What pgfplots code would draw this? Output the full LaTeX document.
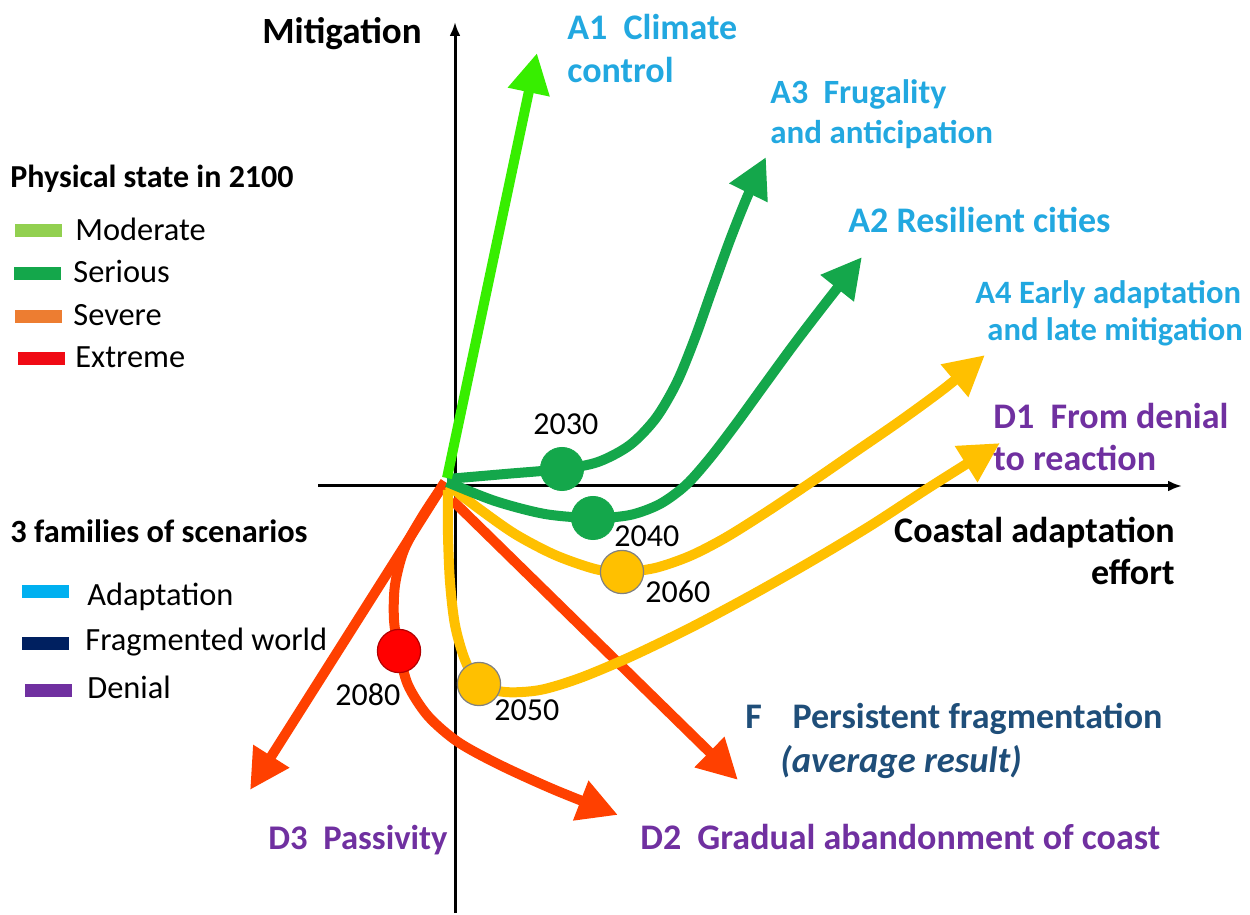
\documentclass[border=0pt]{standalone}
\usepackage{pgfplots}
\pgfplotsset{compat=1.18}
\usepackage{fontspec}
\setmainfont{Carlito}
\usetikzlibrary{arrows.meta}
\definecolor{limeg}{RGB}{55,238,0}
\definecolor{serg}{RGB}{20,167,75}
\definecolor{yel}{RGB}{255,192,0}
\definecolor{redor}{RGB}{255,64,0}
\definecolor{modg}{RGB}{146,208,80}
\definecolor{sevo}{RGB}{237,125,49}
\definecolor{extr}{RGB}{240,10,20}
\definecolor{adapt}{RGB}{34,168,224}
\definecolor{adsw}{RGB}{0,176,240}
\definecolor{frag}{RGB}{0,32,96}
\definecolor{fragtxt}{RGB}{31,78,121}
\definecolor{deni}{RGB}{112,48,160}
\begin{document}
\begin{tikzpicture}
\begin{axis}[scale only axis, width=625pt, height=456.5pt,
  xmin=0, xmax=1250, ymin=0, ymax=913, y dir=reverse,
  hide axis, clip=false]
\addplot[draw=none] coordinates {(0,0) (1250,913)};
% axes
\addplot[black, line width=1.5pt, -{Latex[length=7pt,width=5.5pt]}] coordinates {(455,913) (455,22)};
\addplot[black, line width=1.5pt, -{Latex[length=7pt,width=5.5pt]}] coordinates {(318,486) (1182,486)};
\tikzset{arr/.style={line width=5pt, -{Triangle[length=20pt,width=20pt]}}}
% F and D3
\addplot[redor, arr] coordinates {(452,500) (738,780)};
\addplot[redor, arr] coordinates {(445,482) (250,790)};
% D2
\addplot[redor, arr, smooth] coordinates {(445,482) (422,517) (404,550) (395,585) (394,620) (399,651) (408,685) (428,716) (458,742) (500,765) (555,790) (618,815)};
% D1
\addplot[yel, arr, smooth] coordinates {(448,490) (448,535) (450,582) (455,625) (465,660) (479,684) (505,692) (540,690) (580,678) (630,657) (690,628) (750,596) (810,562) (870,526) (930,487) (1000,443)};
% A4
\addplot[yel, arr, smooth] coordinates {(448,485) (478,508) (515,534) (555,555) (595,569) (622,572) (655,568) (690,556) (725,538) (765,513) (810,483) (855,452) (900,421) (945,388) (985,355)};
% A2
\addplot[serg, arr, smooth] coordinates {(447,482) (495,501) (545,514) (593,518) (630,515) (660,504) (686,485) (710,458) (736,424) (765,384) (795,343) (828,300) (862,257)};
% A3
\addplot[serg, arr, smooth] coordinates {(447,479) (505,474) (562,469) (598,462) (630,445) (656,418) (677,382) (695,338) (712,290) (730,240) (748,195) (766,157)};
% A1
\addplot[limeg, arr] coordinates {(447,478) (537,53)};
% circles
\addplot[only marks, mark=*, mark size=10.8pt, mark options={fill=serg, draw=serg}] coordinates {(562,469) (593,518)};
\addplot[only marks, mark=*, mark size=10.8pt, mark options={fill=yel, draw=gray, line width=0.6pt}] coordinates {(622,572) (479,684)};
\addplot[only marks, mark=*, mark size=10.8pt, mark options={fill=red, draw=red!70!black, line width=0.6pt}] coordinates {(399,651)};
% legend swatches
\addplot[fill=modg, draw=none] coordinates {(15,224) (62,224) (62,237) (15,237)} -- cycle;
\addplot[fill=serg, draw=none] coordinates {(14,267) (61,267) (61,280) (14,280)} -- cycle;
\addplot[fill=sevo, draw=none] coordinates {(15,310) (62,310) (62,323) (15,323)} -- cycle;
\addplot[fill=extr, draw=none] coordinates {(18,352) (65,352) (65,365) (18,365)} -- cycle;
\addplot[fill=adsw, draw=none] coordinates {(22,585) (69,585) (69,598) (22,598)} -- cycle;
\addplot[fill=frag, draw=none] coordinates {(22,637) (69,637) (69,650) (22,650)} -- cycle;
\addplot[fill=deni, draw=none] coordinates {(25,684) (72,684) (72,697) (25,697)} -- cycle;
% axis labels
\tikzset{every node/.append style={inner sep=0pt}}
\node[anchor=base west, font=\fontsize{18.5}{21}\selectfont\bfseries] at (axis cs:262,44) {Mitigation};
\node[anchor=base east, font=\fontsize{18}{21}\selectfont\bfseries] at (axis cs:1175,543) {Coastal adaptation};
\node[anchor=base east, font=\fontsize{18}{21}\selectfont\bfseries] at (axis cs:1175,585) {effort};
% scenario labels
\tikzset{scen/.style={anchor=base west, font=\fontsize{18}{21}\selectfont\bfseries}}
\node[scen, text=adapt] at (axis cs:567,40) {A1\hspace{0.45em}Climate};
\node[scen, text=adapt] at (axis cs:567,83) {control};
\node[scen, text=adapt, font=\fontsize{17}{20}\selectfont\bfseries] at (axis cs:770,104) {A3\hspace{0.45em}Frugality};
\node[scen, text=adapt, font=\fontsize{16.5}{20}\selectfont\bfseries] at (axis cs:770,144) {and anticipation};
\node[scen, text=adapt] at (axis cs:848,233) {A2 Resilient cities};
\node[scen, text=adapt, font=\fontsize{16.3}{19}\selectfont\bfseries] at (axis cs:975,304) {A4 Early adaptation};
\node[scen, text=adapt, font=\fontsize{16.3}{19}\selectfont\bfseries] at (axis cs:987,341) {and late mitigation};
\node[scen, text=deni] at (axis cs:993,429) {D1\hspace{0.45em}From denial};
\node[scen, text=deni] at (axis cs:993,471) {to reaction};
\node[scen, text=fragtxt, font=\fontsize{18}{21}\selectfont\bfseries] at (axis cs:745,729) {F\hspace{0.85em}Persistent fragmentation};
\node[scen, text=fragtxt, font=\fontsize{18.3}{21}\selectfont\bfseries\itshape] at (axis cs:780,772) {(average result)};
\node[scen, text=deni] at (axis cs:640,849) {D2\hspace{0.45em}Gradual abandonment of coast};
\node[scen, text=deni, font=\fontsize{17.3}{20}\selectfont\bfseries] at (axis cs:268,849) {D3\hspace{0.45em}Passivity};
% years
\tikzset{yr/.style={anchor=base west, font=\fontsize{16}{18}\selectfont}}
\node[yr] at (axis cs:533,435) {2030};
\node[yr] at (axis cs:614,547) {2040};
\node[yr] at (axis cs:645,603) {2060};
\node[yr] at (axis cs:335,705) {2080};
\node[yr] at (axis cs:494,721) {2050};
% legend texts
\node[anchor=base west, font=\fontsize{16}{18}\selectfont\bfseries] at (axis cs:10,188) {Physical state in 2100};
\tikzset{lg/.style={anchor=base west, font=\fontsize{16.2}{19}\selectfont}}
\node[lg] at (axis cs:75,241) {Moderate};
\node[lg] at (axis cs:73,283) {Serious};
\node[lg] at (axis cs:73,326) {Severe};
\node[lg] at (axis cs:75,368) {Extreme};
\node[anchor=base west, font=\fontsize{16.2}{18}\selectfont\bfseries] at (axis cs:10,543) {3 families of scenarios};
\node[lg] at (axis cs:87,606) {Adaptation};
\node[lg] at (axis cs:85,651) {Fragmented world};
\node[lg] at (axis cs:87,698) {Denial};
\end{axis}
\end{tikzpicture}
\end{document}
